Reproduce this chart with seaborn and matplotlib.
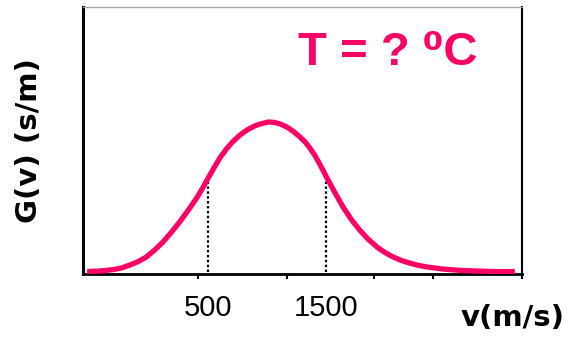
import matplotlib
matplotlib.use("Agg")
import matplotlib.pyplot as plt
import seaborn as sns
import pandas as pd

# Speed distribution G(v), values in units of 1e-4 s/m
vel = [-520, -410, -300, -230, -160, -90, -20, 50, 120, 190,
       260, 335, 410, 455, 500, 550, 600, 655, 710, 770,
       830, 885, 940, 1010, 1060, 1110, 1165, 1220, 1270, 1320,
       1360, 1400, 1450, 1500, 1570, 1640, 1710, 1780, 1850, 1930,
       2000, 2060, 2130, 2200, 2270, 2350, 2480, 2630, 2770, 2920, 3090]
g_vals = [0.12, 0.15, 0.22, 0.30, 0.45, 0.62, 0.85, 1.2, 1.6, 2.08,
          2.6, 3.2, 3.85, 4.3, 4.78, 5.3, 5.8, 6.25, 6.62, 6.95,
          7.2, 7.38, 7.5, 7.6, 7.58, 7.5, 7.35, 7.13, 6.88, 6.6,
          6.3, 5.95, 5.42, 4.85, 4.08, 3.35, 2.72, 2.2, 1.75, 1.33,
          1.05, 0.86, 0.68, 0.55, 0.44, 0.35, 0.25, 0.18, 0.15, 0.12, 0.12]

# speeds marked with dotted drop lines
marked_v = [500, 1500]

# labelled ticks and plain tick marks on the speed axis
tick_vals = [500, 1500]
tick_labels = ["500", "1500"]
mark_ticks = [416, 1167, 1901, 2399, 3146]

title_text = "T = ? \u2070C"
x_label = "v(m/s)"
y_label = "G(v) (s/m)"

PINK = "#FF0066"

sns.set_theme(style="white")
plt.rcParams["font.family"] = ["Liberation Sans", "DejaVu Sans"]

fig = plt.figure(figsize=(5.8, 3.42), dpi=100)
ax = fig.add_axes([83 / 580, 68 / 342, 438.5 / 580, 267 / 342])

df = pd.DataFrame({"v": vel, "G": g_vals})
sns.lineplot(data=df, x="v", y="G", ax=ax, color=PINK, linewidth=3.8,
             solid_capstyle="butt", solid_joinstyle="round", zorder=3)

for v in marked_v:
    top = g_vals[vel.index(v)]
    ax.plot([v, v], [0.1, top], color="black", lw=1.6,
            linestyle=(0, (1.1, 1.1)), zorder=2)

ax.set_xlim(-555, 3146)
ax.set_ylim(0, 13.35)

ax.set_xticks(tick_vals, labels=tick_labels)
ax.set_xticks(mark_ticks, minor=True)
ax.tick_params(axis="x", which="major", length=0, pad=14.5,
               labelsize=21, labelcolor="black")
ax.tick_params(axis="x", which="minor", bottom=True, length=3.6, width=1.5,
               direction="out", color="black")
ax.set_yticks([])

for side, lw, col in [("left", 2.2, "black"), ("bottom", 2.0, "black"),
                      ("right", 1.5, "black"), ("top", 1.0, "#a6a6a6")]:
    ax.spines[side].set_visible(True)
    ax.spines[side].set_linewidth(lw)
    ax.spines[side].set_color(col)

ax.set_xlabel(x_label, fontsize=21, fontweight="bold", color="black",
              family=["DejaVu Sans"], ha="center", va="center")
ax.xaxis.set_label_coords(0.9806, -0.1648)
ax.set_ylabel(y_label, fontsize=21, fontweight="bold", color="black",
              family=["DejaVu Sans"], ha="center", va="center")
ax.yaxis.set_label_coords(-0.1231, 0.5)

ax.text(0.6956, 0.7828, title_text, transform=ax.transAxes, ha="center",
        va="baseline", fontsize=34, fontweight="bold", color=PINK,
        family=["Liberation Sans", "DejaVu Sans"])

fig.savefig("out.png", dpi=100, facecolor="white")
